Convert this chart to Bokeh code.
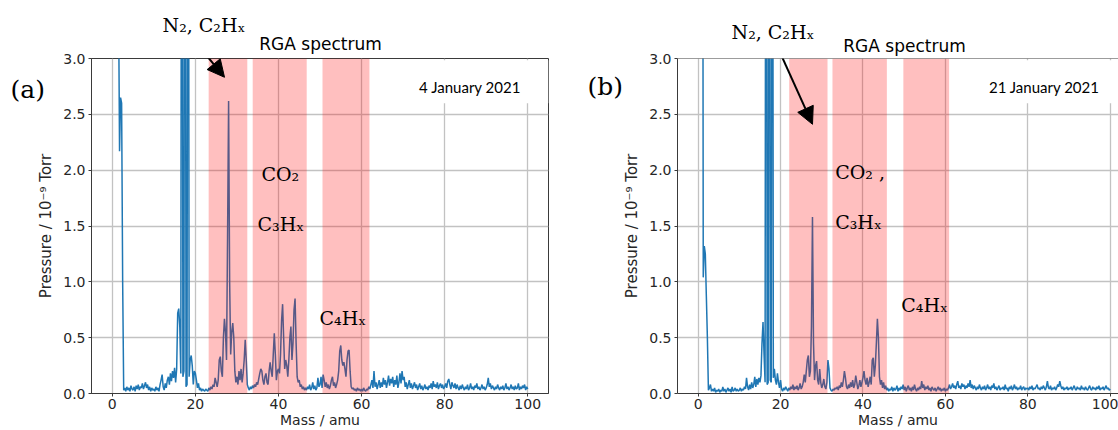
import numpy as np
from bokeh.plotting import figure
from bokeh.layouts import row
from bokeh.models import (Label, Arrow, NormalHead, BoxAnnotation, Span,
                          FixedTicker, Range1d, PrintfTickFormatter)
from bokeh.embed import file_html
from bokeh.resources import INLINE

# ---------------- data ----------------
# mass axis: 1.0 ... 100.0 amu in 0.25 amu steps (397 samples)
mass = np.arange(4, 401) * 0.25

# 4 January 2021 (panel a), pressure in 1e-9 Torr
left_01_10 = [9.0, 9.0, 3.6, 2.17, 2.65, 2.6, 1.0, 0.03,
              0.05, 0.02, 0.06, 0.03, 0.05, 0.02, 0.07, 0.04,
              0.03, 0.06, 0.02, 0.07, 0.04, 0.08, 0.03, 0.06,
              0.05, 0.09, 0.04, 0.07, 0.1, 0.05, 0.08, 0.03,
              0.06, 0.02, 0.05, 0.03]
left_10_20 = [0.04, 0.02, 0.06, 0.03, 0.05, 0.02, 0.08, 0.12,
              0.17, 0.06, 0.03, 0.09, 0.05, 0.12, 0.15, 0.08,
              0.18, 0.11, 0.2, 0.14, 0.23, 0.1, 0.22, 0.72,
              0.76, 0.6, 0.18, 9.0, 0.15, 0.2, 9.0, 0.06,
              0.08, 9.0, 0.15, 0.3, 0.34, 0.25, 0.08, 0.2]
left_20_30 = [0.18, 0.12, 0.05, 0.09, 0.03, 0.05, 0.02, 0.04,
              0.03, 0.02, 0.04, 0.03, 0.02, 0.05, 0.03, 0.06,
              0.04, 0.08, 0.06, 0.14, 0.1, 0.06, 0.12, 0.3,
              0.33, 0.2, 0.15, 0.5, 0.67, 0.55, 0.3, 1.4,
              2.62, 1.0, 0.35, 0.55, 0.63, 0.5, 0.2, 0.1]
left_30_40 = [0.15, 0.08, 0.2, 0.12, 0.22, 0.1, 0.18, 0.3,
              0.48, 0.3, 0.08, 0.05, 0.03, 0.06, 0.04, 0.07,
              0.05, 0.08, 0.06, 0.1, 0.08, 0.13, 0.18, 0.22,
              0.2, 0.12, 0.08, 0.15, 0.18, 0.1, 0.08, 0.2,
              0.28, 0.2, 0.15, 0.35, 0.54, 0.35, 0.12, 0.2]
left_40_50 = [0.22, 0.18, 0.35, 0.65, 0.8, 0.5, 0.22, 0.3,
              0.25, 0.15, 0.3, 0.5, 0.6, 0.3, 0.45, 0.75,
              0.85, 0.45, 0.15, 0.1, 0.12, 0.06, 0.08, 0.04,
              0.06, 0.03, 0.05, 0.03, 0.06, 0.04, 0.08, 0.03,
              0.05, 0.1, 0.04, 0.07, 0.03, 0.05, 0.14, 0.06]
left_50_60 = [0.08, 0.15, 0.05, 0.17, 0.12, 0.06, 0.1, 0.05,
              0.08, 0.04, 0.07, 0.12, 0.15, 0.07, 0.1, 0.05,
              0.08, 0.12, 0.2, 0.38, 0.43, 0.3, 0.25, 0.28,
              0.22, 0.15, 0.3, 0.38, 0.39, 0.2, 0.06, 0.04,
              0.05, 0.03, 0.04, 0.02, 0.05, 0.03, 0.04, 0.02]
left_60_70 = [0.04, 0.02, 0.05, 0.03, 0.02, 0.04, 0.03, 0.06,
              0.04, 0.08, 0.12, 0.05, 0.2, 0.06, 0.1, 0.04,
              0.08, 0.12, 0.05, 0.1, 0.06, 0.14, 0.08, 0.12,
              0.05, 0.1, 0.16, 0.07, 0.13, 0.09, 0.15, 0.06,
              0.12, 0.08, 0.16, 0.05, 0.1, 0.18, 0.09, 0.2]
left_70_80 = [0.12, 0.15, 0.06, 0.1, 0.04, 0.08, 0.12, 0.05,
              0.09, 0.04, 0.07, 0.1, 0.05, 0.08, 0.03, 0.06,
              0.09, 0.04, 0.07, 0.03, 0.05, 0.08, 0.04, 0.06,
              0.03, 0.07, 0.05, 0.09, 0.04, 0.11, 0.06, 0.08,
              0.05, 0.1, 0.04, 0.07, 0.09, 0.05, 0.08, 0.04]
left_80_90 = [0.06, 0.09, 0.05, 0.11, 0.13, 0.08, 0.04, 0.1,
              0.07, 0.05, 0.09, 0.04, 0.08, 0.05, 0.03, 0.07,
              0.04, 0.08, 0.05, 0.03, 0.06, 0.04, 0.08, 0.03,
              0.05, 0.09, 0.04, 0.06, 0.03, 0.07, 0.05, 0.09,
              0.04, 0.06, 0.03, 0.05, 0.08, 0.04, 0.06, 0.03]
left_90_100 = [0.05, 0.08, 0.14, 0.06, 0.09, 0.04, 0.07, 0.05,
               0.03, 0.06, 0.04, 0.08, 0.05, 0.03, 0.06, 0.04,
               0.07, 0.03, 0.05, 0.09, 0.04, 0.06, 0.03, 0.05,
               0.08, 0.04, 0.06, 0.03, 0.07, 0.04, 0.05, 0.09,
               0.03, 0.06, 0.04, 0.07, 0.05, 0.08, 0.03, 0.06, 0.04]

# 21 January 2021 (panel b)
right_01_10 = [9.0, 1.04, 1.32, 1.25, 0.87, 0.5, 0.03, 0.05,
               0.08, 0.02, 0.04, 0.02, 0.05, 0.01, 0.03, 0.02,
               0.04, 0.01, 0.03, 0.02, 0.06, 0.02, 0.04, 0.01,
               0.03, 0.05, 0.02, 0.04, 0.01, 0.06, 0.02, 0.03,
               0.05, 0.02, 0.04, 0.02]
right_10_20 = [0.03, 0.05, 0.02, 0.04, 0.03, 0.06, 0.04, 0.14,
               0.06, 0.03, 0.08, 0.04, 0.1, 0.05, 0.08, 0.15,
               0.06, 0.13, 0.08, 0.14, 0.1, 0.16, 0.45, 0.64,
               0.35, 0.1, 9.0, 0.08, 0.1, 9.0, 0.12, 0.1,
               9.0, 0.14, 0.22, 0.12, 0.08, 0.18, 0.1, 0.05]
right_20_30 = [0.12, 0.04, 0.02, 0.05, 0.03, 0.06, 0.04, 0.02,
               0.05, 0.03, 0.06, 0.04, 0.08, 0.03, 0.06, 0.04,
               0.07, 0.03, 0.05, 0.09, 0.04, 0.06, 0.1, 0.17,
               0.1, 0.2, 0.3, 0.34, 0.15, 0.2, 0.6, 1.58,
               0.45, 0.12, 0.25, 0.29, 0.12, 0.08, 0.22, 0.1]
right_30_40 = [0.05, 0.08, 0.13, 0.06, 0.04, 0.1, 0.3, 0.22,
               0.05, 0.03, 0.02, 0.04, 0.03, 0.05, 0.04, 0.06,
               0.03, 0.07, 0.05, 0.1, 0.06, 0.12, 0.2, 0.14,
               0.06, 0.04, 0.08, 0.05, 0.1, 0.06, 0.12, 0.05,
               0.08, 0.16, 0.1, 0.04, 0.07, 0.12, 0.06, 0.1]
right_40_50 = [0.14, 0.2, 0.12, 0.08, 0.14, 0.06, 0.1, 0.15,
               0.08, 0.3, 0.32, 0.15, 0.25, 0.45, 0.67, 0.5,
               0.15, 0.08, 0.12, 0.05, 0.1, 0.04, 0.07, 0.03,
               0.05, 0.02, 0.04, 0.03, 0.06, 0.02, 0.05, 0.03,
               0.04, 0.07, 0.02, 0.05, 0.03, 0.06, 0.04, 0.08]
right_50_60 = [0.03, 0.06, 0.02, 0.05, 0.07, 0.03, 0.05, 0.02,
               0.06, 0.03, 0.08, 0.04, 0.02, 0.05, 0.03, 0.06,
               0.04, 0.11, 0.05, 0.08, 0.03, 0.06, 0.04, 0.07,
               0.03, 0.05, 0.02, 0.06, 0.04, 0.03, 0.05, 0.02,
               0.04, 0.06, 0.03, 0.05, 0.02, 0.04, 0.03, 0.05]
right_60_70 = [0.02, 0.04, 0.03, 0.05, 0.08, 0.04, 0.06, 0.09,
               0.05, 0.07, 0.04, 0.08, 0.11, 0.05, 0.07, 0.04,
               0.09, 0.06, 0.08, 0.04, 0.07, 0.05, 0.09, 0.06,
               0.12, 0.05, 0.08, 0.04, 0.07, 0.05, 0.03, 0.06,
               0.04, 0.08, 0.05, 0.03, 0.06, 0.04, 0.07, 0.03]
right_70_80 = [0.05, 0.08, 0.04, 0.06, 0.03, 0.07, 0.05, 0.09,
               0.04, 0.06, 0.03, 0.05, 0.07, 0.03, 0.05, 0.04,
               0.06, 0.03, 0.08, 0.04, 0.05, 0.02, 0.06, 0.04,
               0.07, 0.03, 0.05, 0.08, 0.04, 0.06, 0.03, 0.05,
               0.04, 0.07, 0.03, 0.05, 0.06, 0.03, 0.05, 0.04]
right_80_90 = [0.05, 0.03, 0.06, 0.04, 0.07, 0.03, 0.05, 0.04,
               0.06, 0.08, 0.04, 0.05, 0.03, 0.06, 0.04, 0.07,
               0.05, 0.03, 0.06, 0.11, 0.05, 0.04, 0.07, 0.03,
               0.05, 0.04, 0.06, 0.03, 0.05, 0.08, 0.06, 0.11,
               0.07, 0.04, 0.06, 0.03, 0.05, 0.04, 0.06, 0.03]
right_90_100 = [0.05, 0.04, 0.06, 0.03, 0.05, 0.07, 0.04, 0.03,
                0.06, 0.04, 0.05, 0.03, 0.07, 0.04, 0.05, 0.03,
                0.06, 0.04, 0.03, 0.05, 0.07, 0.04, 0.03, 0.06,
                0.04, 0.05, 0.03, 0.06, 0.04, 0.07, 0.03, 0.05,
                0.04, 0.06, 0.03, 0.05, 0.07, 0.04, 0.05, 0.03, 0.04]

left_pressure = (left_01_10 + left_10_20 + left_20_30 + left_30_40 + left_40_50 +
                 left_50_60 + left_60_70 + left_70_80 + left_80_90 + left_90_100)
right_pressure = (right_01_10 + right_10_20 + right_20_30 + right_30_40 + right_40_50 +
                  right_50_60 + right_60_70 + right_70_80 + right_80_90 + right_90_100)
assert len(left_pressure) == len(mass) == len(right_pressure)

# shaded mass windows (amu)
left_windows = [(23.2, 32.5), (33.8, 46.8), (50.6, 61.9)]
right_windows = [(22.1, 31.4), (32.6, 45.8), (49.8, 60.9)]

x_ticks = [0, 20, 40, 60, 80, 100]
y_ticks = [0.0, 0.5, 1.0, 1.5, 2.0, 2.5, 3.0]
title_text = "RGA spectrum"
x_label = "Mass / amu"
y_label = "Pressure / 10\u207b\u2079 Torr"

SERIF = "DejaVu Serif"
SANS = "DejaVu Sans"
H = 430


class Mapper:
    """page pixel position -> data coordinates of a panel's frame"""
    def __init__(self, fl, fb, x0, kx, ky):
        self.fl, self.fb, self.x0, self.kx, self.ky = fl, fb, x0, kx, ky

    def __call__(self, X, Y):
        return self.x0 + (X - self.fl) / self.kx, (self.fb - Y) / self.ky


def make_panel(pressure, windows, width, xend, mb_left, mb_right, mb_top,
               outline, items, arrow, mp):
    p = figure(width=width, height=H, x_range=Range1d(-5, xend), y_range=Range1d(0, 3),
               output_backend="svg", toolbar_location=None,
               min_border_left=mb_left, min_border_right=mb_right,
               min_border_top=mb_top, min_border_bottom=36)
    p.background_fill_color = "white"
    p.border_fill_color = "white"
    p.outline_line_color = "#3a3a3a" if outline else None
    p.outline_line_width = 1

    for ax, ticks in ((p.xaxis, x_ticks), (p.yaxis, y_ticks)):
        ax.ticker = FixedTicker(ticks=ticks)
        ax.minor_tick_line_color = None
        ax.major_tick_out = 3
        ax.major_tick_in = 0
        ax.major_tick_line_color = "#3a3a3a"
        ax.axis_line_color = "#3a3a3a"
        ax.major_label_text_font = SANS
        ax.major_label_text_font_size = "14px"
        ax.major_label_text_color = "#262626"
        ax.axis_label_text_font = SANS
        ax.axis_label_text_font_size = "14px"
        ax.axis_label_text_font_style = "normal"
        ax.axis_label_text_color = "#262626"
        ax.major_label_standoff = 3
    p.yaxis.formatter = PrintfTickFormatter(format="%.1f")
    p.xaxis.axis_label = x_label
    p.yaxis.axis_label = y_label
    p.yaxis.axis_label_text_font_size = "15px"
    p.xaxis.axis_label_standoff = 0
    p.xaxis.major_label_standoff = 2
    p.yaxis.axis_label_standoff = 5

    for g in (p.xgrid, p.ygrid):
        g.grid_line_color = "#c2c2c2"
        g.grid_line_width = 1.3
    p.xgrid.ticker = FixedTicker(ticks=x_ticks)
    p.ygrid.ticker = FixedTicker(ticks=y_ticks)

    p.line(mass, pressure, line_color="#1f77b4", line_width=1.5)

    for lo, hi in windows:
        p.add_layout(BoxAnnotation(left=lo, right=hi, fill_color="red", fill_alpha=0.25,
                                   line_color=None))

    # white box behind the date text
    p.add_layout(BoxAnnotation(left=64, bottom=2.6, top=2.985, fill_color="white",
                               fill_alpha=1.0, line_color=None))

    if not outline:
        p.add_layout(Span(location=3.0, dimension="width", line_color="#3a3a3a",
                          line_width=1))

    # texts; those outside the frame live in side panels so they are not clipped
    for (X, Y, t, font, size, align, base, place) in items:
        x, y = mp(X, Y)
        lab = Label(x=x, y=y, text=t, text_font=font, text_font_size=size,
                    text_align=align, text_baseline=base, text_color="black")
        p.add_layout(lab, place)

    (X0, Y0, X1, Y1) = arrow
    xs, ys = mp(X0, Y0)
    xe, ye = mp(X1, Y1)
    p.add_layout(Arrow(end=NormalHead(size=17, fill_color="black", line_color="black"),
                       x_start=xs, y_start=ys, x_end=xe, y_end=ye,
                       line_color="black", line_width=2))
    return p


LMAP = Mapper(91, 394, -5, 457 / 110, 339 / 3)
RMAP = Mapper(677, 394, -5, 441 / 107, 336 / 3)

left_items = [
    (10, 86.5, "(a)", SERIF, "25px", "left", "middle", "left"),
    (320, 40, title_text, SANS, "17px", "center", "alphabetic", "above"),
    (162, 21, "N\u2082, C\u2082H\u2093", SERIF, "19px", "left", "alphabetic", "above"),
    (418.6, 84, "4 January 2021", "Lato", "15px", "left", "alphabetic", "center"),
    (261, 172, "CO\u2082", SERIF, "19px", "left", "alphabetic", "center"),
    (257, 222, "C\u2083H\u2093", SERIF, "19px", "left", "alphabetic", "center"),
    (319, 318, "C\u2084H\u2093", SERIF, "19px", "left", "alphabetic", "center"),
]
right_items = [
    (587, 86, "(b)", SERIF, "25px", "left", "middle", "left"),
    (904, 45, title_text, SANS, "17px", "center", "alphabetic", "above"),
    (731, 31, "N\u2082, C\u2082H\u2093", SERIF, "19px", "left", "alphabetic", "above"),
    (988.5, 87, "21 January 2021", "Lato", "15px", "left", "alphabetic", "center"),
    (834.7, 172, "CO\u2082 ,", SERIF, "19px", "left", "alphabetic", "center"),
    (834.7, 222, "C\u2083H\u2093", SERIF, "19px", "left", "alphabetic", "center"),
    (900.8, 305, "C\u2084H\u2093", SERIF, "19px", "left", "alphabetic", "center"),
]

p_left = make_panel(left_pressure, left_windows, 568, 105, 91, 20, 55, True,
                    left_items, (202, 47, 224, 74), LMAP)
p_right = make_panel(right_pressure, right_windows, 550, 102.0, 109, 0, 58, False,
                     right_items, (780, 53, 812, 124), RMAP)

layout = row(p_left, p_right, spacing=0)
open("out.html", "w").write(file_html(layout, INLINE))
